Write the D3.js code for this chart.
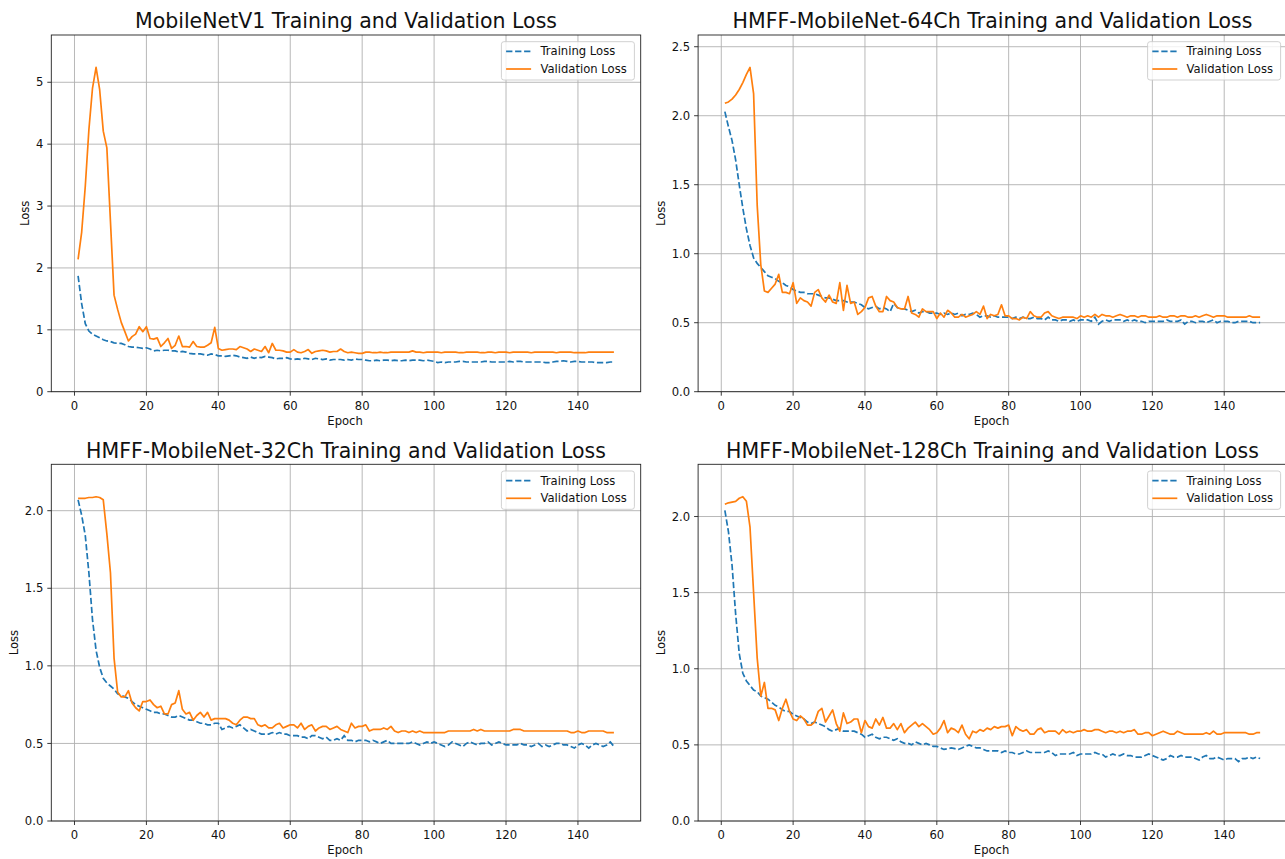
<!DOCTYPE html>
<html>
<head>
<meta charset="utf-8">
<script src="https://cdn.jsdelivr.net/npm/d3@7"></script>
<style>
  html, body { margin: 0; padding: 0; background: #fff; }
  svg { display: block; font-family: "DejaVu Sans", sans-serif; }
</style>
</head>
<body>
<svg id="fig" width="1285" height="859"></svg>
<script>
// Loss history per model (epochs 1..150)
const epochs = d3.range(1, 151);
const xTicks = [0, 20, 40, 60, 80, 100, 120, 140];
const seriesNames = ["Training Loss", "Validation Loss"];
const titles = [
  "MobileNetV1 Training and Validation Loss",
  "HMFF-MobileNet-64Ch Training and Validation Loss",
  "HMFF-MobileNet-32Ch Training and Validation Loss",
  "HMFF-MobileNet-128Ch Training and Validation Loss"
];
const yTicksV1 = [0, 1, 2, 3, 4, 5];
const yTicksHalf = [0, 0.5, 1.0, 1.5, 2.0, 2.5];

const mobilenetTrain = [
  1.87,1.42,1.10,0.98,0.93,0.90,0.87,0.84,0.82,0.81,
  0.79,0.78,0.78,0.76,0.73,0.72,0.72,0.71,0.70,0.71,
  0.69,0.66,0.67,0.66,0.67,0.67,0.66,0.66,0.64,0.65,
  0.64,0.62,0.61,0.61,0.61,0.60,0.59,0.61,0.60,0.58,
  0.58,0.57,0.58,0.59,0.58,0.56,0.55,0.54,0.56,0.54,
  0.56,0.55,0.57,0.56,0.55,0.53,0.54,0.54,0.55,0.53,
  0.52,0.53,0.52,0.54,0.53,0.52,0.54,0.53,0.52,0.53,
  0.51,0.52,0.52,0.52,0.51,0.52,0.51,0.53,0.52,0.52,
  0.51,0.50,0.50,0.51,0.50,0.51,0.51,0.50,0.51,0.50,
  0.50,0.51,0.50,0.51,0.51,0.51,0.50,0.51,0.50,0.49,
  0.47,0.48,0.47,0.48,0.48,0.48,0.49,0.49,0.48,0.48,
  0.48,0.48,0.48,0.49,0.49,0.48,0.48,0.48,0.48,0.48,
  0.49,0.48,0.49,0.49,0.48,0.48,0.48,0.48,0.48,0.48,
  0.47,0.47,0.48,0.49,0.49,0.50,0.49,0.48,0.49,0.49,
  0.48,0.48,0.48,0.48,0.47,0.47,0.47,0.47,0.48,0.48
];
const mobilenetVal = [
  2.14,2.58,3.32,4.23,4.90,5.24,4.88,4.21,3.94,2.75,
  1.56,1.33,1.12,0.97,0.82,0.89,0.93,1.05,0.97,1.05,
  0.86,0.85,0.87,0.73,0.79,0.86,0.70,0.75,0.90,0.73,
  0.73,0.72,0.81,0.73,0.72,0.72,0.75,0.79,1.04,0.70,
  0.67,0.68,0.69,0.69,0.68,0.73,0.71,0.69,0.65,0.69,
  0.67,0.65,0.73,0.63,0.78,0.67,0.67,0.66,0.64,0.64,
  0.68,0.64,0.63,0.65,0.68,0.62,0.65,0.66,0.67,0.66,
  0.64,0.65,0.65,0.69,0.65,0.63,0.64,0.63,0.62,0.62,
  0.64,0.64,0.63,0.63,0.64,0.63,0.63,0.64,0.64,0.64,
  0.64,0.64,0.64,0.66,0.64,0.64,0.63,0.64,0.64,0.64,
  0.64,0.63,0.64,0.64,0.64,0.64,0.63,0.63,0.64,0.64,
  0.64,0.64,0.63,0.63,0.64,0.64,0.63,0.64,0.64,0.64,
  0.63,0.64,0.64,0.64,0.64,0.64,0.63,0.64,0.64,0.64,
  0.64,0.64,0.64,0.63,0.64,0.64,0.64,0.64,0.63,0.63,
  0.63,0.63,0.64,0.64,0.64,0.64,0.64,0.64,0.64,0.64
];

const ch64Train = [
  2.03,1.92,1.82,1.68,1.50,1.33,1.18,1.06,0.97,0.93,
  0.90,0.87,0.84,0.83,0.82,0.80,0.79,0.77,0.76,0.74,
  0.73,0.72,0.72,0.71,0.71,0.71,0.70,0.69,0.68,0.68,
  0.67,0.66,0.66,0.66,0.65,0.65,0.65,0.64,0.63,0.61,
  0.60,0.61,0.62,0.60,0.61,0.60,0.58,0.64,0.61,0.60,
  0.60,0.59,0.58,0.59,0.57,0.58,0.58,0.57,0.57,0.57,
  0.56,0.57,0.56,0.57,0.56,0.57,0.55,0.56,0.56,0.57,
  0.56,0.54,0.55,0.55,0.54,0.55,0.54,0.54,0.54,0.54,
  0.53,0.54,0.53,0.54,0.53,0.53,0.54,0.53,0.53,0.52,
  0.54,0.52,0.52,0.51,0.52,0.52,0.51,0.52,0.51,0.52,
  0.52,0.52,0.51,0.54,0.49,0.51,0.52,0.51,0.52,0.52,
  0.52,0.51,0.52,0.51,0.52,0.51,0.51,0.50,0.51,0.51,
  0.51,0.51,0.51,0.52,0.51,0.51,0.51,0.52,0.49,0.51,
  0.51,0.50,0.51,0.51,0.50,0.51,0.52,0.50,0.51,0.51,
  0.51,0.50,0.50,0.51,0.51,0.51,0.51,0.50,0.50,0.50
];
const ch64Val = [
  2.09,2.10,2.12,2.15,2.19,2.24,2.30,2.35,2.16,1.35,
  0.92,0.73,0.72,0.75,0.78,0.85,0.72,0.72,0.71,0.79,
  0.64,0.68,0.66,0.65,0.62,0.72,0.74,0.68,0.65,0.70,
  0.65,0.64,0.79,0.59,0.77,0.64,0.65,0.56,0.58,0.61,
  0.68,0.69,0.62,0.58,0.58,0.69,0.66,0.65,0.61,0.60,
  0.60,0.69,0.57,0.56,0.54,0.60,0.58,0.58,0.58,0.53,
  0.57,0.54,0.59,0.57,0.54,0.54,0.56,0.54,0.55,0.56,
  0.58,0.56,0.62,0.53,0.56,0.55,0.56,0.63,0.55,0.55,
  0.53,0.53,0.52,0.54,0.53,0.58,0.55,0.54,0.54,0.57,
  0.58,0.55,0.54,0.53,0.54,0.54,0.54,0.54,0.53,0.55,
  0.54,0.55,0.54,0.56,0.54,0.56,0.55,0.55,0.54,0.55,
  0.56,0.55,0.54,0.55,0.55,0.54,0.55,0.55,0.54,0.54,
  0.54,0.55,0.54,0.54,0.55,0.55,0.54,0.55,0.55,0.54,
  0.54,0.55,0.54,0.55,0.56,0.55,0.54,0.55,0.55,0.55,
  0.54,0.54,0.54,0.54,0.54,0.54,0.55,0.54,0.54,0.54
];

const ch32Train = [
  2.07,1.97,1.84,1.60,1.30,1.10,0.99,0.92,0.89,0.87,
  0.85,0.82,0.81,0.80,0.79,0.77,0.75,0.74,0.73,0.72,
  0.71,0.70,0.70,0.69,0.69,0.68,0.67,0.67,0.68,0.67,
  0.66,0.65,0.65,0.64,0.63,0.63,0.62,0.62,0.63,0.63,
  0.59,0.60,0.61,0.60,0.61,0.62,0.60,0.58,0.59,0.58,
  0.57,0.56,0.56,0.56,0.57,0.56,0.57,0.56,0.56,0.55,
  0.55,0.55,0.54,0.54,0.53,0.55,0.55,0.54,0.53,0.54,
  0.52,0.52,0.53,0.52,0.55,0.52,0.52,0.51,0.52,0.52,
  0.52,0.51,0.52,0.51,0.50,0.51,0.52,0.50,0.50,0.50,
  0.50,0.50,0.50,0.51,0.50,0.49,0.50,0.51,0.50,0.51,
  0.50,0.49,0.48,0.49,0.51,0.50,0.49,0.48,0.50,0.51,
  0.50,0.49,0.50,0.50,0.51,0.49,0.50,0.51,0.50,0.49,
  0.49,0.49,0.49,0.50,0.49,0.49,0.48,0.49,0.50,0.48,
  0.49,0.48,0.49,0.50,0.50,0.49,0.49,0.48,0.47,0.49,
  0.50,0.49,0.47,0.49,0.50,0.49,0.48,0.49,0.51,0.48
];
const ch32Val = [
  2.08,2.08,2.08,2.085,2.085,2.09,2.085,2.07,1.85,1.60,
  1.05,0.83,0.80,0.80,0.84,0.76,0.73,0.71,0.77,0.77,
  0.78,0.75,0.73,0.74,0.69,0.69,0.75,0.76,0.84,0.72,
  0.69,0.70,0.65,0.68,0.70,0.67,0.70,0.65,0.66,0.66,
  0.66,0.66,0.65,0.63,0.62,0.65,0.67,0.67,0.66,0.66,
  0.62,0.61,0.62,0.60,0.60,0.62,0.63,0.60,0.61,0.62,
  0.62,0.60,0.63,0.59,0.61,0.62,0.58,0.60,0.61,0.61,
  0.59,0.60,0.61,0.59,0.58,0.57,0.63,0.60,0.61,0.61,
  0.62,0.58,0.59,0.59,0.59,0.60,0.59,0.61,0.58,0.57,
  0.58,0.58,0.57,0.58,0.57,0.58,0.57,0.57,0.57,0.57,
  0.57,0.57,0.57,0.58,0.58,0.58,0.58,0.58,0.58,0.58,
  0.59,0.58,0.59,0.58,0.58,0.58,0.58,0.58,0.58,0.58,
  0.58,0.59,0.59,0.59,0.58,0.58,0.58,0.58,0.58,0.58,
  0.58,0.58,0.58,0.58,0.58,0.58,0.58,0.57,0.57,0.58,
  0.57,0.57,0.58,0.58,0.58,0.58,0.58,0.57,0.57,0.57
];

const ch128Train = [
  2.04,1.90,1.68,1.36,1.10,0.97,0.92,0.89,0.86,0.85,
  0.82,0.81,0.80,0.78,0.76,0.75,0.73,0.72,0.72,0.70,
  0.69,0.68,0.67,0.65,0.64,0.65,0.64,0.63,0.62,0.60,
  0.59,0.60,0.61,0.59,0.59,0.59,0.59,0.58,0.57,0.55,
  0.56,0.57,0.55,0.54,0.55,0.55,0.54,0.53,0.54,0.52,
  0.51,0.51,0.50,0.52,0.51,0.50,0.51,0.50,0.49,0.49,
  0.48,0.47,0.475,0.48,0.475,0.47,0.48,0.49,0.50,0.49,
  0.48,0.48,0.47,0.46,0.46,0.46,0.46,0.45,0.46,0.45,
  0.45,0.44,0.44,0.45,0.46,0.45,0.45,0.45,0.45,0.45,
  0.46,0.45,0.43,0.44,0.44,0.44,0.44,0.45,0.43,0.44,
  0.44,0.44,0.44,0.45,0.44,0.44,0.42,0.43,0.44,0.43,
  0.43,0.44,0.43,0.43,0.42,0.42,0.42,0.43,0.44,0.43,
  0.42,0.41,0.40,0.41,0.43,0.42,0.42,0.43,0.42,0.42,
  0.42,0.41,0.40,0.42,0.43,0.41,0.41,0.42,0.41,0.40,
  0.41,0.41,0.41,0.39,0.41,0.41,0.42,0.41,0.42,0.41
];
const ch128Val = [
  2.08,2.09,2.095,2.10,2.12,2.13,2.10,1.93,1.50,1.07,
  0.82,0.91,0.74,0.74,0.73,0.66,0.74,0.80,0.72,0.67,
  0.66,0.69,0.67,0.63,0.63,0.65,0.72,0.74,0.65,0.69,
  0.73,0.64,0.59,0.71,0.64,0.65,0.67,0.67,0.58,0.66,
  0.62,0.61,0.67,0.63,0.68,0.61,0.61,0.64,0.60,0.64,
  0.58,0.61,0.63,0.65,0.62,0.64,0.62,0.60,0.57,0.58,
  0.61,0.66,0.58,0.61,0.60,0.58,0.63,0.57,0.54,0.59,
  0.58,0.60,0.59,0.61,0.60,0.62,0.61,0.62,0.62,0.63,
  0.56,0.62,0.60,0.59,0.60,0.57,0.57,0.60,0.61,0.58,
  0.59,0.59,0.59,0.57,0.60,0.58,0.59,0.58,0.59,0.59,
  0.60,0.59,0.59,0.60,0.60,0.59,0.58,0.59,0.59,0.58,
  0.59,0.58,0.59,0.59,0.60,0.57,0.57,0.58,0.58,0.56,
  0.57,0.58,0.59,0.58,0.57,0.57,0.59,0.58,0.57,0.57,
  0.57,0.57,0.57,0.57,0.58,0.57,0.59,0.57,0.57,0.58,
  0.58,0.58,0.58,0.58,0.58,0.58,0.57,0.57,0.58,0.58
];

// Figure layout (px)
const colX = [[51.3, 640.7], [698.1, 1286.9]];
const rowY = [[35, 391.7], [464.3, 821]];
const panels = [
  { title: titles[0], train: mobilenetTrain, val: mobilenetVal, yTicks: yTicksV1, fmt: d3.format("d"), col: 0, row: 0 },
  { title: titles[1], train: ch64Train, val: ch64Val, yTicks: yTicksHalf, fmt: d3.format(".1f"), col: 1, row: 0 },
  { title: titles[2], train: ch32Train, val: ch32Val, yTicks: yTicksHalf, fmt: d3.format(".1f"), col: 0, row: 1 },
  { title: titles[3], train: ch128Train, val: ch128Val, yTicks: yTicksHalf, fmt: d3.format(".1f"), col: 1, row: 1 }
];

const C_TRAIN = "#1f77b4", C_VAL = "#ff7f0e";
const LW = 1.7, DASH = "6.3,2.7";
const FS = 11.6;

const svg = d3.select("#fig");

panels.forEach(p => {
  const [x0, x1] = colX[p.col];
  const [y0, y1] = rowY[p.row];
  const ymax = 1.1 * d3.max(p.train.concat(p.val));
  const x = d3.scaleLinear().domain([-6.45, 157.45]).range([x0, x1]);
  const y = d3.scaleLinear().domain([0, ymax]).range([y1, y0]);
  const yt = p.yTicks.filter(t => t <= ymax);

  const g = svg.append("g");
  const clipId = "clip" + p.col + p.row;
  g.append("clipPath").attr("id", clipId)
    .append("rect").attr("x", x0).attr("y", y0).attr("width", x1 - x0).attr("height", y1 - y0);

  // grid
  const grid = g.append("g").attr("stroke", "#b0b0b0").attr("stroke-width", 0.9);
  grid.selectAll(".gx").data(xTicks).join("line")
    .attr("x1", d => x(d)).attr("x2", d => x(d)).attr("y1", y0).attr("y2", y1);
  grid.selectAll(".gy").data(yt).join("line")
    .attr("y1", d => y(d)).attr("y2", d => y(d)).attr("x1", x0).attr("x2", x1);

  // series
  const line = vals => d3.line().x((d, i) => x(epochs[i])).y(d => y(d))(vals);
  const lines = g.append("g").attr("clip-path", `url(#${clipId})`).attr("fill", "none");
  lines.append("path").attr("d", line(p.train)).attr("stroke", C_TRAIN)
    .attr("stroke-width", LW).attr("stroke-dasharray", DASH);
  lines.append("path").attr("d", line(p.val)).attr("stroke", C_VAL)
    .attr("stroke-width", LW).attr("stroke-linejoin", "round");

  // frame
  g.append("rect").attr("x", x0).attr("y", y0).attr("width", x1 - x0).attr("height", y1 - y0)
    .attr("fill", "none").attr("stroke", "#222").attr("stroke-width", 0.9);

  // x axis ticks
  const xa = g.append("g");
  xa.selectAll("line").data(xTicks).join("line")
    .attr("x1", d => x(d)).attr("x2", d => x(d)).attr("y1", y1).attr("y2", y1 + 4)
    .attr("stroke", "#222").attr("stroke-width", 0.9);
  xa.selectAll("text").data(xTicks).join("text")
    .attr("x", d => x(d)).attr("y", y1 + 17.8).attr("text-anchor", "middle")
    .attr("font-size", FS).attr("fill", "#111").text(d => d);

  // y axis ticks
  const ya = g.append("g");
  ya.selectAll("line").data(yt).join("line")
    .attr("y1", d => y(d)).attr("y2", d => y(d)).attr("x1", x0 - 4).attr("x2", x0)
    .attr("stroke", "#222").attr("stroke-width", 0.9);
  const ylabels = ya.selectAll("text").data(yt).join("text")
    .attr("x", x0 - 8).attr("y", d => y(d) + 4.1).attr("text-anchor", "end")
    .attr("font-size", FS).attr("fill", "#111").text(d => p.fmt(d));
  const minX = d3.min(ylabels.nodes(), n => n.getBBox().x);

  // axis labels
  g.append("text").attr("x", (x0 + x1) / 2 - 0.9).attr("y", y1 + 33.3)
    .attr("text-anchor", "middle").attr("font-size", FS).attr("fill", "#111").text("Epoch");
  g.append("text")
    .attr("transform", `translate(${minX - 6.5},${(y0 + y1) / 2}) rotate(-90)`)
    .attr("text-anchor", "middle").attr("font-size", FS).attr("fill", "#111").text("Loss");

  // title
  g.append("text").attr("x", (x0 + x1) / 2).attr("y", y0 - 6.7)
    .attr("text-anchor", "middle").attr("font-size", 20.5).attr("fill", "#111").text(p.title);

  // legend
  const lw = 133, lh = 38.3;
  const lx = x1 - 6.3 - lw, ly = y0 + 6.7;
  const lg = g.append("g");
  lg.append("rect").attr("x", lx).attr("y", ly).attr("width", lw).attr("height", lh)
    .attr("rx", 2.5).attr("fill", "#fff").attr("fill-opacity", 0.8)
    .attr("stroke", "#cccccc").attr("stroke-width", 0.9);
  const items = [
    { name: seriesNames[0], color: C_TRAIN, dash: DASH },
    { name: seriesNames[1], color: C_VAL, dash: null }
  ];
  items.forEach((it, i) => {
    const cy = ly + 9.6 + i * 17.7;
    lg.append("line").attr("x1", lx + 4.7).attr("x2", lx + 29.7).attr("y1", cy).attr("y2", cy)
      .attr("stroke", it.color).attr("stroke-width", LW)
      .attr("stroke-dasharray", it.dash);
    lg.append("text").attr("x", lx + 39).attr("y", cy + 4.1)
      .attr("font-size", FS).attr("fill", "#111").text(it.name);
  });
});
</script>
</body>
</html>
